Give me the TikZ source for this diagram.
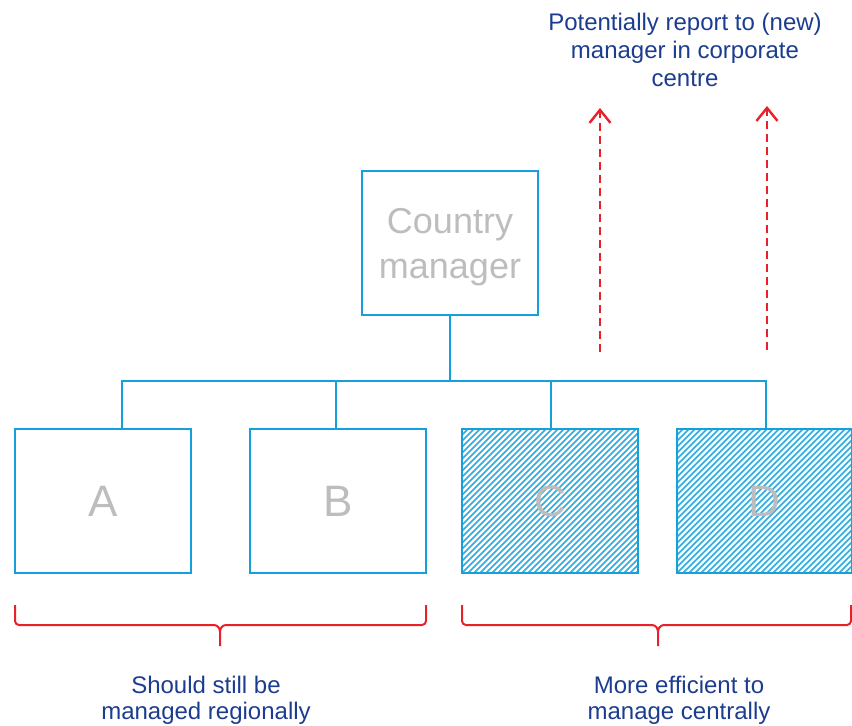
\documentclass[tikz,border=0pt]{standalone}
\usepackage{fontspec}
\setmainfont{Liberation Sans}
\usetikzlibrary{arrows.meta}
\definecolor{orgblue}{HTML}{16A0DB}
\definecolor{labelgray}{HTML}{BDBDBD}
\definecolor{notered}{HTML}{E8202A}
\definecolor{noteblue}{HTML}{1C3D8F}
\begin{document}
\begin{tikzpicture}[x=1pt,y=-1pt,
  unitbox/.style={draw=orgblue,line width=2.4pt,minimum width=176pt,minimum height=144pt,
    inner sep=0pt,text=labelgray,font=\fontsize{44}{50}\selectfont},
  link/.style={draw=orgblue,line width=2.2pt},
  futurelink/.style={draw=notered,line width=2.3pt,dash pattern=on 8pt off 5pt,
    -{Straight Barb[length=13pt,width=21pt,line width=2.4pt]}},
  groupbrace/.style={draw=notered,line width=2pt,rounded corners=4pt},
  note/.style={text=noteblue,align=center,font=\fontsize{24}{28}\selectfont},
  hatch/.style={orgblue!90,line width=1.7pt}]
\useasboundingbox (0,0) rectangle (852,726);

% country manager box and its label
\node[unitbox] (cm) at (450,243) {};
\node[text=labelgray,align=center,inner sep=0pt,font=\fontsize{36}{45}\selectfont,
  yshift=-4pt] (cmlabel) at (cm.center) {Country\\manager};

% hatched units C and D
\foreach \x/\w in {462/176,677/175}{
  \begin{scope}
    \clip (\x,429) rectangle ++(\w,144);
    \foreach \k in {-150,-144,...,180}
      \draw[hatch] (\x+\k,573) -- ++(150,-150);
  \end{scope}
}

\node[unitbox] (A) at (103,501) {A};
\node[unitbox] (B) at (338,501) {B};
\node[unitbox] (C) at (550,501) {C};
\node[unitbox,minimum width=175pt] (D) at (764.5,501) {D};

% reporting lines
\coordinate (busL) at (122,381);
\coordinate (busR) at (766,381);
\draw[link] (cm.south) -- (cm.south |- busL);
\draw[link,line cap=rect] (busL) -- (busR);
\draw[link] (busL) -- (busL |- A.north);
\draw[link] (336,381) -- (336,429);
\draw[link] (551,381) -- (551,429);
\draw[link] (busR) -- (busR |- D.north);

% possible new reporting to corporate centre
\node[note] (corp) at (685,50) {Potentially report to (new)\\manager in corporate\\centre};
\coordinate (upL0) at (600,352);
\coordinate (upL1) at (600,108);
\coordinate (upR0) at (767,350);
\coordinate (upR1) at (767,106);
\draw[futurelink] (upL0) -- (upL1);
\draw[futurelink] (upR0) -- (upR1);

% group braces
\draw[groupbrace] (15,605) -- (15,625) -- (214,625);
\draw[draw=notered,line width=2pt] (214,625) to[out=0,in=90] (220,632) -- (220,646);
\draw[draw=notered,line width=2pt] (220,632) to[out=90,in=180] (226,625);
\draw[groupbrace] (226,625) -- (426,625) -- (426,605);

\draw[groupbrace] (462,605) -- (462,625) -- (652,625);
\draw[draw=notered,line width=2pt] (652,625) to[out=0,in=90] (658,632) -- (658,646);
\draw[draw=notered,line width=2pt] (658,632) to[out=90,in=180] (664,625);
\draw[groupbrace] (664,625) -- (851,625) -- (851,605);

\node[note,font=\fontsize{24}{26}\selectfont] (regional) at (206,700) {Should still be\\managed regionally};
\node[note,font=\fontsize{24}{26}\selectfont] (central) at (679,700) {More efficient to\\manage centrally};
\end{tikzpicture}
\end{document}
